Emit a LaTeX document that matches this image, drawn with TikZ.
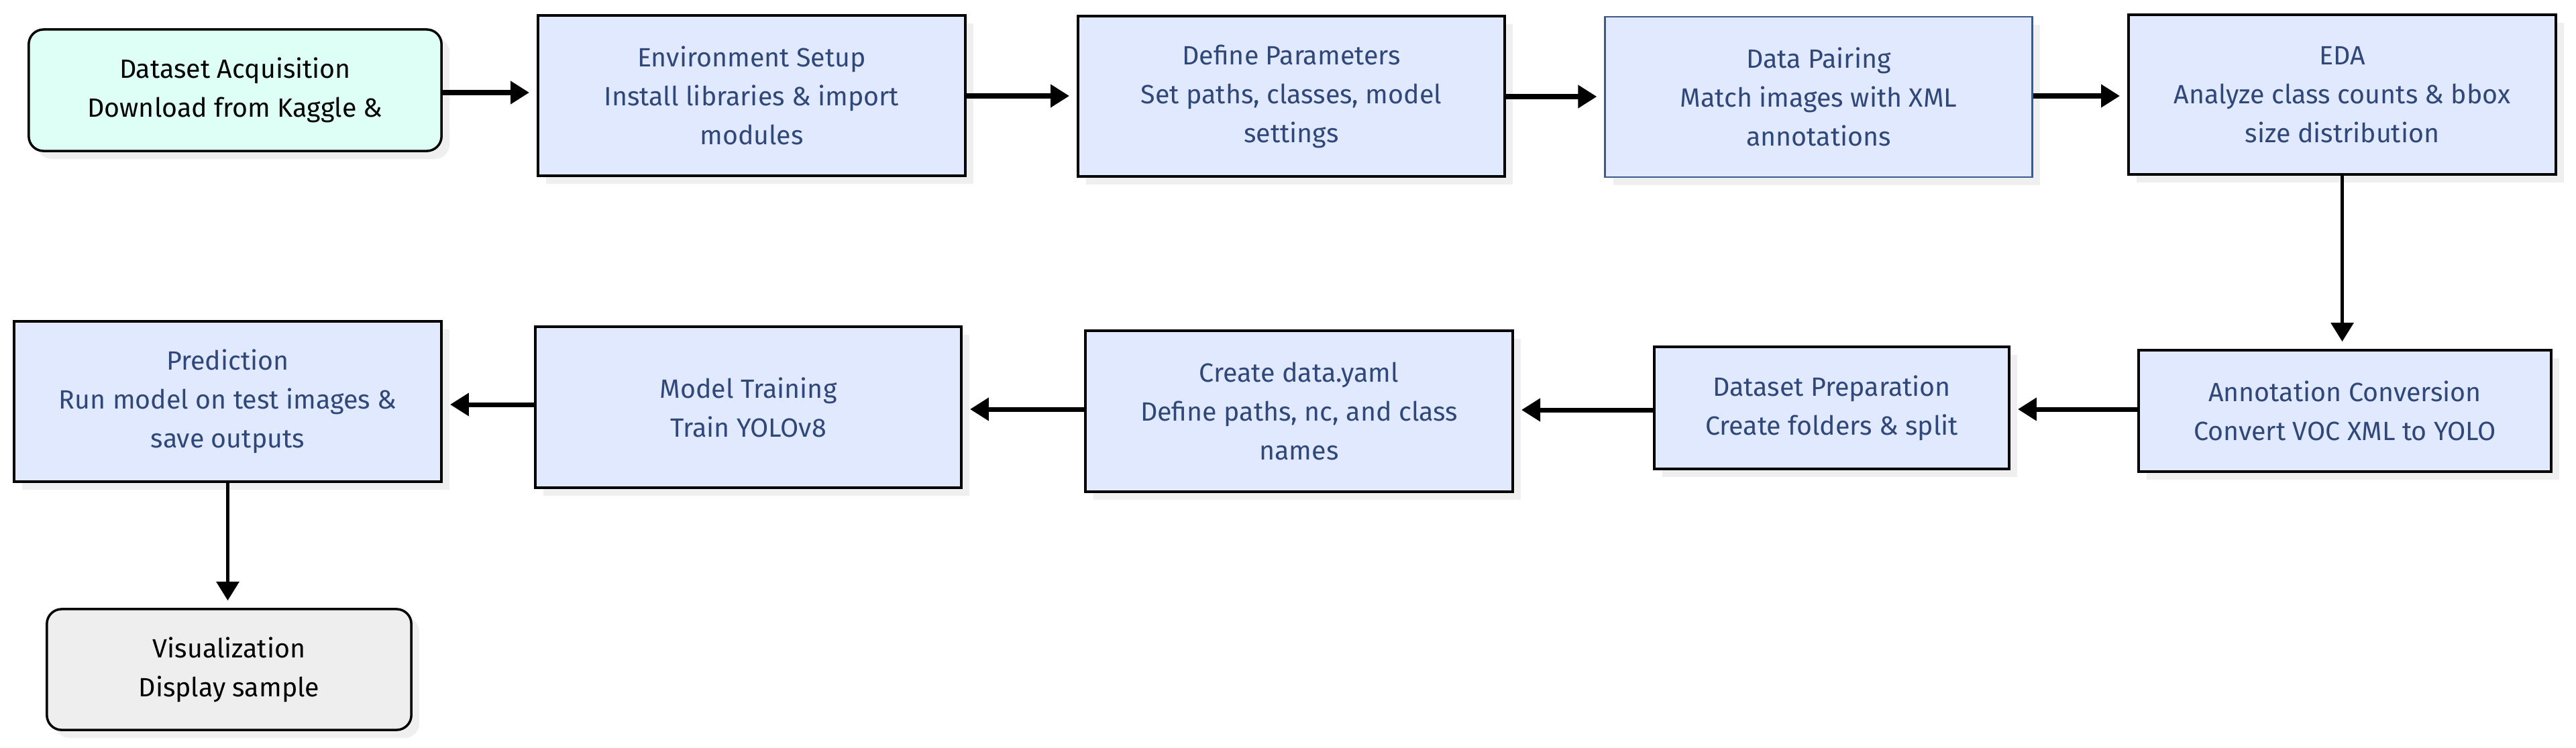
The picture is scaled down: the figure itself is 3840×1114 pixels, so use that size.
\documentclass[tikz,border=0pt]{standalone}
\usepackage{fontspec}
\setmainfont{Fira Sans}
\usetikzlibrary{arrows.meta}
\definecolor{boxblue}{HTML}{E0E9FD}
\definecolor{txtblue}{HTML}{30477A}
\definecolor{pairborder}{HTML}{3C5A8C}
\definecolor{teal}{HTML}{DDFFF6}
\definecolor{grayfill}{HTML}{EEEEEE}
\definecolor{shadowgray}{HTML}{EFEFEF}
\tikzset{
  base/.style={draw=black, line width=1pt, align=center, inner sep=0pt,
    font=\fontsize{11.2}{16.5}\selectfont,
    preaction={fill=shadowgray, transform canvas={xshift=0.12cm, yshift=-0.12cm}}},
  procbox/.style={base, fill=boxblue, text=txtblue},
  endbox/.style={base, rounded corners=0.22cm, text=black},
  flow/.style={-{Triangle[length=0.28cm,width=0.33cm]}, line width=2pt, shorten >=0.11cm},
  vflow/.style={-{Triangle[length=0.28cm,width=0.33cm]}, line width=1.6pt, shorten >=0.11cm}
}
\begin{document}
\begin{tikzpicture}[x=0.01cm, y=-0.01cm]
\useasboundingbox (0,0) rectangle (3840,1114);
% row 1
\node[endbox, fill=teal, minimum width=6.15cm, minimum height=1.81cm] (acq) at (350.5,134.5)
  {Dataset Acquisition\\Download from Kaggle \&};
\node[procbox, minimum width=6.37cm, minimum height=2.39cm] (env) at (1120.5,142.5)
  {Environment Setup\\Install libraries \& import\\modules};
\node[procbox, minimum width=6.36cm, minimum height=2.39cm] (def) at (1925,143.5)
  {Define Parameters\\Set paths, classes, model\\settings};
\node[procbox, draw=pairborder, line width=0.8pt, minimum width=6.36cm, minimum height=2.39cm] (pair) at (2711,144.5)
  {Data Pairing\\Match images with XML\\annotations};
\node[procbox, minimum width=6.37cm, minimum height=2.38cm] (eda) at (3491.5,141)
  {EDA\\Analyze class counts \& bbox\\size distribution};
% row 2
\node[procbox, minimum width=6.15cm, minimum height=1.81cm] (ann) at (3495.5,612.5)
  {Annotation Conversion\\Convert VOC XML to YOLO};
\node[procbox, minimum width=5.29cm, minimum height=1.82cm] (prep) at (2730.5,608)
  {Dataset Preparation\\Create folders \& split};
\node[procbox, minimum width=6.37cm, minimum height=2.40cm] (yaml) at (1936.5,613)
  {Create data.yaml\\Define paths, nc, and class\\names};
\node[procbox, minimum width=6.35cm, minimum height=2.40cm] (train) at (1115.5,607)
  {Model Training\\Train YOLOv8};
\node[procbox, minimum width=6.37cm, minimum height=2.39cm] (pred) at (339.5,598.5)
  {Prediction\\Run model on test images \&\\save outputs};
\node[endbox, fill=grayfill, minimum width=5.43cm, minimum height=1.80cm] (vis) at (341.5,998)
  {Visualization\\Display sample};
% connectors
\draw[flow] (acq.east |- 0,138) -- (env.west |- 0,138);
\draw[flow] (env.east |- 0,143) -- (def.west |- 0,143);
\draw[flow] (def.east |- 0,144) -- (pair.west |- 0,144);
\draw[flow] (pair.east |- 0,143) -- (eda.west |- 0,143);
\draw[vflow] (eda.south) -- (eda.south |- ann.north);
\draw[flow] (ann.west |- 0,610) -- (prep.east |- 0,610);
\draw[flow] (prep.west |- 0,611) -- (yaml.east |- 0,611);
\draw[flow] (yaml.west |- 0,610) -- (train.east |- 0,610);
\draw[flow] (train.west |- 0,603) -- (pred.east |- 0,603);
\draw[vflow] (pred.south) -- (pred.south |- vis.north);
\end{tikzpicture}
\end{document}
